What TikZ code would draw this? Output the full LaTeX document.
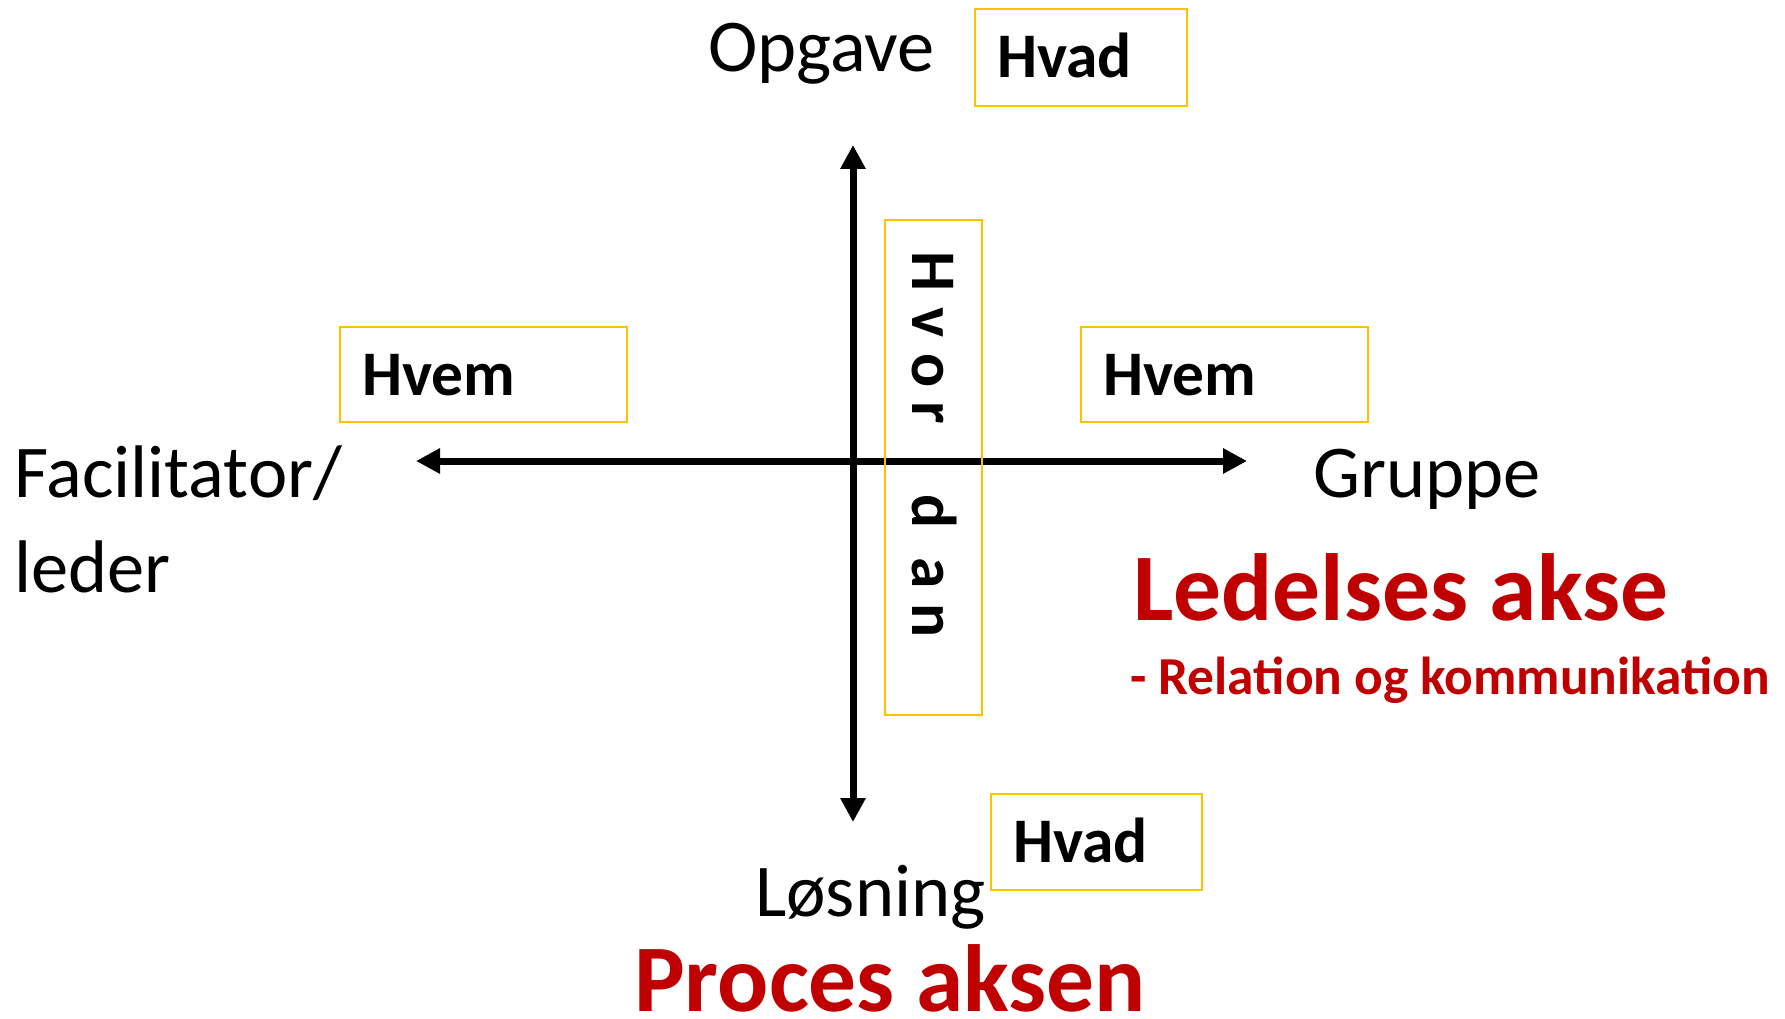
\documentclass[tikz,border=0pt]{standalone}
\usepackage{fontspec}
\setmainfont{Carlito}
\usetikzlibrary{arrows.meta}
\definecolor{boxyellow}{HTML}{FFC000}
\definecolor{darkred}{HTML}{C00000}
\tikzset{
  axis/.style={line width=7pt, {Triangle[length=24pt,width=24pt]}-{Triangle[length=24pt,width=24pt]}},
  ybox/.style={draw=boxyellow, line width=2pt, rectangle, inner ysep=0pt},
  qbox/.style={ybox, font=\fontsize{63.5}{76}\selectfont\bfseries, align=left, inner xsep=22pt, text height=41pt, text depth=0pt},
  bigtxt/.style={inner sep=0pt, anchor=base west, font=\fontsize{74.5}{90}\selectfont},
  redtitle/.style={inner sep=0pt, anchor=base west, text=darkred, font=\fontsize{95.4}{110}\selectfont\bfseries},
  letter/.style={inner sep=0pt, rotate=-90, anchor=base, font=\fontsize{63.5}{76}\selectfont\bfseries}
}
\begin{document}
\begin{tikzpicture}[x=1pt,y=-1pt]
\useasboundingbox (0,0) rectangle (1785,1019);
% axes
\coordinate (top) at (853,145);
\coordinate (bottom) at (853,822);
\coordinate (left) at (416,461);
\coordinate (right) at (1247,461);
\draw[axis] (top) -- (bottom);
\draw[axis] (left) -- (right);
% boxes
\node[qbox, anchor=north west, minimum width=212pt, minimum height=97pt, text width=168pt] (hvadtop) at (974,8) {Hvad};
\node[qbox, anchor=north west, minimum width=287pt, minimum height=95pt, text width=243pt] (hvemleft) at (339,326) {Hvem};
\node[qbox, anchor=north west, minimum width=287pt, minimum height=95pt, text width=243pt] (hvemright) at (1080,326) {Hvem};
\node[qbox, anchor=north west, minimum width=211pt, minimum height=96pt, text width=167pt] (hvadbot) at (990,793) {Hvad};
\node[ybox, anchor=north west, minimum width=97pt, minimum height=495pt, inner sep=0pt] (hvordan) at (884,219) {};
% Hvordan letters
\node[letter] (l1) at (912,272) {H};
\node[letter] (l2) at (912,323) {v};
\node[letter] (l3) at (912,371) {o};
\node[letter] (l4) at (912,413) {r};
\node[letter] (l5) at (912,512) {d};
\node[letter] (l6) at (912,573) {a};
\node[letter] (l7) at (912,621) {n};
% labels
\node[bigtxt] (opgave) at (708,72) {Opgave};
\node[bigtxt] (losning) at (755,916) {Løsning};
\node[bigtxt] (gruppe) at (1313,497) {Gruppe};
\node[bigtxt, align=left, anchor=north west] (facil) at (14,446) {Facilitator/\\[5pt]leder};
\node[redtitle] (ledelse) at (1133,620) {Ledelses akse};
\node[inner sep=0pt, anchor=base west, text=darkred, font=\fontsize{53.4}{64}\selectfont\bfseries] (relation) at (1130,694) {- Relation og kommunikation};
\node[redtitle] (proces) at (634,1011) {Proces aksen};
\end{tikzpicture}
\end{document}
